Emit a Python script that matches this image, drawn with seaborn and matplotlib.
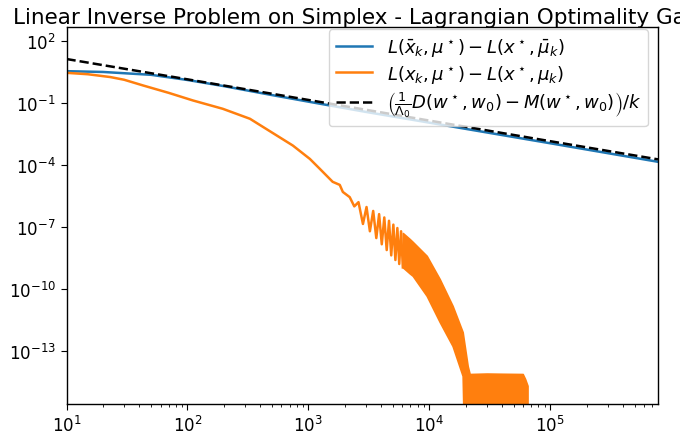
import numpy as np
import matplotlib
matplotlib.use("Agg")
import matplotlib.pyplot as plt
import seaborn as sns

# Werte (log-log Achsen)
# Dual-Gap der gemittelten Iterierten (blau)
k_blue = [10, 20, 50, 100, 200, 500, 1000, 3000, 1e4, 1e5, 7.8e5]
gap_blue = [3.6, 3.3, 2.4, 1.35, 0.68, 0.25, 0.12, 0.038, 0.0115, 1.15e-3, 1.45e-4]

# Schranke C/k (gestrichelt)
k_bound = [10, 100, 1e3, 1e4, 1e5, 7.8e5]
gap_bound = [14.0, 1.45, 0.145, 0.0145, 1.45e-3, 1.9e-4]

# letzte Iterierte (orange), glatter Teil
k_last = [10, 15, 23, 30, 43, 70, 111, 196, 329, 745, 1030, 1245, 1590, 1820, 1930]
gap_last = [3.0, 2.56, 1.87, 1.38, 0.73, 0.32, 0.137, 0.054, 0.0177, 8.9e-4,
            2.0e-4, 6.6e-5, 1.55e-5, 1.1e-5, 5e-6]

# Oszillationen (Spitzen und Täler abwechselnd)
k_spikes = [2200, 2400, 2600, 2830, 3030, 3230, 3440, 3650, 3850, 4050,
            4250, 4450, 4650, 4850, 5050, 5250, 5450, 5650, 5850, 6050]
gap_spikes = [2.8e-6, 1.0e-6, 1.6e-6, 1.4e-7, 9.3e-7, 6.2e-8, 6.0e-7, 2.9e-8, 4.2e-7, 1.45e-8,
              2.9e-7, 7.6e-9, 2.0e-7, 4.2e-9, 1.3e-7, 2.5e-9, 8.9e-8, 1.6e-9, 6.2e-8, 1.1e-9]

# dichtes Oszillationsband: obere und untere Einhüllende
k_band = [6050, 6900, 7300, 9530, 12200, 15600, 18900, 19500, 20800, 21600,
          30000, 40000, 59300, 62000, 65000]
band_hi = [5.1e-8, 2.6e-8, 1.9e-8, 4e-9, 3e-10, 1.5e-11, 8e-13, 2.3e-13, 1.8e-14, 7.4e-15,
           7.8e-15, 7.6e-15, 7.4e-15, 4.3e-15, 2e-15]
band_lo = [1.1e-9, 5.6e-10, 4.3e-10, 4.6e-11, 2.5e-12, 1.7e-13, 6e-15, 1e-18, 1e-18, 1e-18,
           1e-18, 1e-18, 1e-18, 1e-18, 1e-18]

blue = '#1f77b4'
orange = '#ff7f0e'
lw = 1.8

plt.rcParams.update({
    'xtick.labelsize': 12, 'ytick.labelsize': 12,
    'xtick.major.size': 4.2, 'ytick.major.size': 4.2,
    'xtick.minor.size': 2.4, 'ytick.minor.size': 2.4,
    'axes.linewidth': 1.0,
})

fig = plt.figure(figsize=(6.8, 4.39), dpi=100)
ax = fig.add_axes([66.5 / 680, 1 - 405 / 439, (658 - 66.5) / 680, (405 - 28) / 439])
ax.set_xscale('log')
ax.set_yscale('log')

sns.lineplot(x=k_blue, y=gap_blue, ax=ax, color=blue, linewidth=lw,
             label=r'$L(\bar{x}_k, \mu^\star) - L(x^\star, \bar{\mu}_k)$')
sns.lineplot(x=k_last + k_spikes, y=gap_last + gap_spikes, ax=ax, color=orange, linewidth=lw,
             label=r'$L(x_k, \mu^\star) - L(x^\star, \mu_k)$')
ax.fill_between(k_band, band_lo, band_hi, color=orange, linewidth=1.2, edgecolor=orange)
sns.lineplot(x=k_bound, y=gap_bound, ax=ax, color='black', linewidth=lw, linestyle='--',
             label=r'$\left(\frac{1}{\Lambda_0}D(w^\star, w_0) - M(w^\star, w_0)\right)/k$')

ax.set_xlim(10, 7.8e5)
ax.set_ylim(2.6e-16, 5e2)
ax.set_yticks(10.0 ** np.arange(2, -14, -3))
ax.yaxis.set_minor_locator(matplotlib.ticker.NullLocator())

ax.set_title('Linear Inverse Problem on Simplex - Lagrangian Optimality Gap',
             fontsize=15.5, x=0.49, pad=1)
ax.legend(loc='upper right', fontsize=13, labelspacing=0.25, handlelength=2.0,
          borderaxespad=0, bbox_to_anchor=(1 - 10 / 591.5, 1 - 2 / 377))

fig.savefig('out.png', dpi=100)
